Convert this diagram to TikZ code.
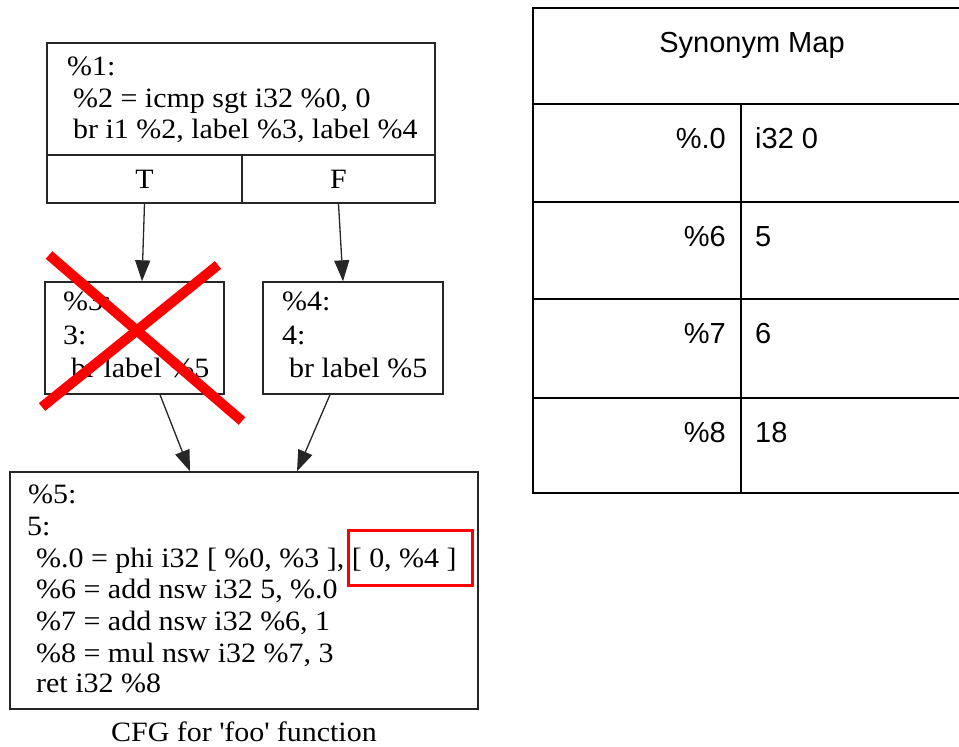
\documentclass[tikz,border=0pt]{standalone}
\usepackage{fontspec}
\setmainfont[FakeStretch=1.07]{Liberation Serif}
\newfontfamily\tabfont{Liberation Sans}
\usetikzlibrary{arrows.meta}
\begin{document}
\begin{tikzpicture}[x=1pt,y=-1pt,
  box/.style={draw=black!85,line width=1.4pt,rectangle,inner sep=0pt},
  ln/.style={anchor=base west,inner sep=0pt,font=\fontsize{28}{32}\selectfont},
  cfgarrow/.style={draw=black!85,line width=1.3pt,-{Triangle[length=21pt,width=15pt]}},
  cell/.style={draw=black,line width=2pt,rectangle,inner sep=0pt},
  tl/.style={inner sep=0pt,font=\tabfont\fontsize{29}{32}\selectfont},
  cross/.style={draw=red,line width=10pt},
  hl/.style={draw=red,line width=3pt}]
\useasboundingbox (0,0) rectangle (959,747);
% CFG boxes
\node[box,minimum width=388pt,minimum height=112pt] (b1) at (241,99) {};
\node[box,minimum width=195pt,minimum height=48pt,font=\fontsize{28}{32}\selectfont] (bT) at (144.5,179) {T};
\node[box,minimum width=193pt,minimum height=48pt,font=\fontsize{28}{32}\selectfont] (bF) at (338.5,179) {F};
\node[box,minimum width=179pt,minimum height=112pt] (b3) at (134.5,338) {};
\node[box,minimum width=180pt,minimum height=112pt] (b4) at (353,338) {};
\node[box,minimum width=468pt,minimum height=237pt] (b5) at (244,590.5) {};
% texts
\node[ln] (t11) at (67,75) {\%1:};
\node[ln] (t12) at (73,107) {\%2 = icmp sgt i32 \%0, 0};
\node[ln] (t13) at (73,138) {br i1 \%2, label \%3, label \%4};
\node[ln] (t31) at (63,310) {\%3:};
\node[ln] (t32) at (63,344) {3:};
\node[ln] (t33) at (71,377) {br label \%5};
\node[ln] (t41) at (282,310) {\%4:};
\node[ln] (t42) at (282,344) {4:};
\node[ln] (t43) at (289,377) {br label \%5};
\node[ln] (t51) at (28,503) {\%5:};
\node[ln] (t52) at (27,535) {5:};
\node[ln] (t53) at (36,567) {\%.0 = phi i32 [ \%0, \%3 ], [ 0, \%4 ]};
\node[ln] (t54) at (36,598) {\%6 = add nsw i32 5, \%.0};
\node[ln] (t55) at (36,630) {\%7 = add nsw i32 \%6, 1};
\node[ln] (t56) at (36,662) {\%8 = mul nsw i32 \%7, 3};
\node[ln] (t57) at (36,692) {ret i32 \%8};
\node[anchor=base,inner sep=0pt,font=\fontsize{28}{32}\selectfont] (cap) at (244,741) {CFG for \textquotesingle foo\textquotesingle{} function};
% arrows
\draw[cfgarrow] (bT.south) -- ([xshift=7.5pt]b3.north);
\draw[cfgarrow] (bF.south) -- ([xshift=-10pt]b4.north);
\draw[cfgarrow] ([xshift=25.5pt]b3.south) -- ([xshift=-54pt]b5.north);
\draw[cfgarrow] ([xshift=-23pt]b4.south) -- ([xshift=53pt]b5.north);
% highlight and cross
\node[hl,minimum width=124pt,minimum height=55pt,inner sep=0pt] (hbox) at (410,557.5) {};
\coordinate (xa1) at (49,255);
\coordinate (xa2) at (242,421);
\coordinate (xb1) at (42,407);
\coordinate (xb2) at (218,265);
\draw[cross] (xa1) -- (xa2);
\draw[cross] (xb1) -- (xb2);
% table
\node[cell,minimum width=429pt,minimum height=96pt] (hdr) at (747.5,56) {};
\node[tl,anchor=base] (hdrt) at (752,52) {Synonym Map};
\foreach \k/\top/\bot/\a/\b in {0/104/202/\%.0/i32 0,1/202/299/\%6/5,2/299/398/\%7/6,3/398/493/\%8/18}{
  \pgfmathsetmacro{\cy}{(\top+\bot)/2}
  \pgfmathsetmacro{\hh}{\bot-\top}
  \node[cell,minimum width=208pt,minimum height=\hh pt] (l\k) at (637,\cy) {};
  \node[cell,minimum width=221pt,minimum height=\hh pt] (r\k) at (851.5,\cy) {};
  \node[tl,anchor=base east] (lt\k) at (726,\top+44) {\a};
  \node[tl,anchor=base west] (rt\k) at (755,\top+44) {\b};
}
\end{tikzpicture}
\end{document}
